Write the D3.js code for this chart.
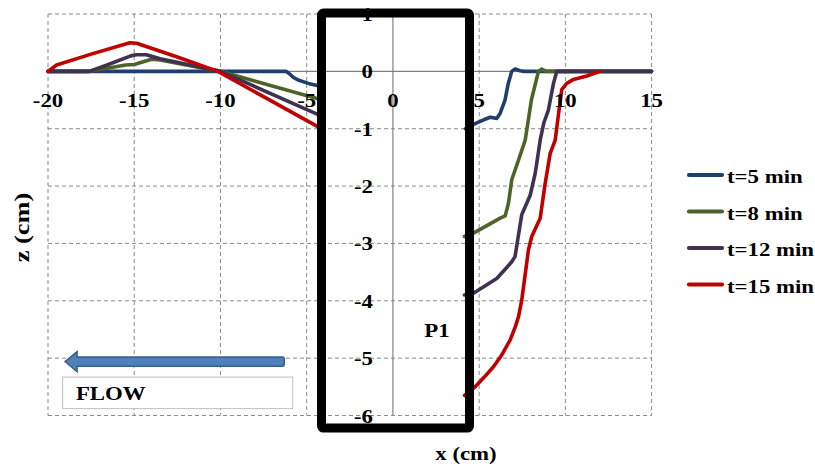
<!DOCTYPE html>
<html><head><meta charset="utf-8">
<script src="https://cdn.jsdelivr.net/npm/d3@7"></script>
<style>
body{margin:0;background:#fff}
svg{display:block}
text{font-family:"Liberation Serif","Times New Roman",serif;font-weight:bold;fill:#000}
</style>
</head><body>
<svg id="c" width="815" height="467"></svg>
<script>
// ---------- data ----------
const seriesNames = ["t=5 min", "t=8 min", "t=12 min", "t=15 min"];
const xTicks = [-20, -15, -10, -5, 0, 5, 10, 15];
const yTicks = [1, 0, -1, -2, -3, -4, -5, -6];

// t = 5 min
const t5Left  = [[-20,0],[-6.2,0],[-6.0,-0.04],[-5.8,-0.1],[-5.5,-0.15],[-4.9,-0.21],[-4.2,-0.26]];
const t5Right = [[4.2,-1.0],[4.5,-0.95],[4.86,-0.9],[5.3,-0.84],[5.64,-0.8],[6.02,-0.82],[6.22,-0.73],
                 [6.5,-0.5],[6.69,-0.21],[6.89,0.0],[7.08,0.04],[7.37,0.01],[7.6,0],[15,0]];
// t = 8 min
const t8Left  = [[-20,0],[-17.7,0],[-16.5,0.06],[-15.5,0.11],[-15.0,0.12],[-14.0,0.21],[-13.5,0.2],
                 [-10,0],[-4.2,-0.49]];
const t8Right = [[4.15,-2.88],[4.67,-2.82],[5.5,-2.68],[6.22,-2.56],[6.51,-2.52],[6.7,-2.3],
                 [6.89,-1.89],[7.28,-1.55],[7.67,-1.2],[8.03,-0.5],[8.44,0.0],[8.63,0.04],[8.88,0],[9.5,0],[15,0]];
// t = 12 min
const t12Left  = [[-20,0],[-17.6,0],[-16.5,0.12],[-15.2,0.27],[-14.9,0.29],[-14.3,0.29],[-13.5,0.22],
                  [-10,0],[-4.2,-0.77]];
const t12Right = [[4.15,-3.9],[4.67,-3.87],[6.02,-3.61],[6.6,-3.42],[6.89,-3.32],[7.08,-3.23],[7.47,-2.5],
                  [7.96,-2.16],[8.25,-1.78],[8.54,-1.2],[8.75,-0.9],[9.02,-0.67],[9.31,-0.21],[9.5,0],[15,0]];
// t = 15 min
const t15Left  = [[-20,0],[-19.5,0.11],[-17.5,0.3],[-15.25,0.5],[-14.86,0.49],[-12.5,0.25],
                  [-10.15,0],[-4.2,-0.99]];
const t15Right = [[4.15,-5.65],[4.77,-5.5],[5.3,-5.33],[5.83,-5.15],[6.3,-4.95],[6.8,-4.68],[7.1,-4.45],
                  [7.28,-4.28],[7.47,-3.99],[7.86,-3.11],[8.05,-2.88],[8.54,-2.56],[8.83,-1.95],[9.12,-1.43],
                  [9.41,-1.2],[9.6,-0.75],[9.79,-0.32],[10.08,-0.21],[10.47,-0.14],[11.24,-0.08],[12.02,0]];

const seriesSegments = [[t5Left, t5Right], [t8Left, t8Right], [t12Left, t12Right], [t15Left, t15Right]];

// annotations (data units)
const pierBox = {x0: -4.14, x1: 4.44, y0: 1.017, y1: -6.22};
const flowArrow = {xTail: -6.3, xTip: -19.01, y: -5.06};
const flowBox = {x0: -19.15, x1: -5.81, y0: -5.33, y1: -5.88};
const pierLabel = {x: 1.82, y: -4.63, text: "P1"};
const flowLabel = {x: -18.38, y: -5.73, text: "FLOW"};

// ---------- style ----------
const colors = ["#1F3F6E", "#4F6228", "#3F3151", "#C00000"];
const svg = d3.select("#c");
const x = d3.scaleLinear().domain([-20, 15]).range([48, 651.6]);
const y = d3.scaleLinear().domain([-6, 1]).range([415.5, 14]);
const SX = 1.2; // horizontal stretch of text in reference

function label(g, px, py, str, anchor, size, rot) {
  const t = g.append("g")
    .attr("transform", `translate(${px},${py})` + (rot ? ` rotate(${rot})` : "") + ` scale(${SX},1)`);
  t.append("text").attr("text-anchor", anchor).style("font-size", size + "px").text(str);
  return t;
}

// grid
const grid = svg.append("g").attr("stroke", "#8a8a8a").attr("stroke-width", 1).attr("stroke-dasharray", "4,3");
xTicks.filter(d => d !== 0).forEach(d => {
  grid.append("line").attr("x1", x(d)).attr("x2", x(d)).attr("y1", y(1)).attr("y2", y(-6));
});
yTicks.filter(d => d !== 0).forEach(d => {
  grid.append("line").attr("x1", x(-20)).attr("x2", x(15)).attr("y1", y(d)).attr("y2", y(d));
});
// axes
svg.append("line").attr("x1", x(-20)).attr("x2", x(15)).attr("y1", y(0)).attr("y2", y(0))
  .attr("stroke", "#808080").attr("stroke-width", 1.2);
svg.append("line").attr("x1", x(0)).attr("x2", x(0)).attr("y1", y(1)).attr("y2", y(-6))
  .attr("stroke", "#808080").attr("stroke-width", 1.2);

// series
const line = d3.line().x(d => x(d[0])).y(d => y(d[1])).curve(d3.curveLinear);
seriesSegments.forEach((segs, i) => {
  segs.forEach(seg => {
    svg.append("path").datum(seg).attr("d", line).attr("fill", "none")
      .attr("stroke", colors[i]).attr("stroke-width", 3.6)
      .attr("stroke-linejoin", "round").attr("stroke-linecap", "round");
  });
});

// tick labels
const tl = svg.append("g");
xTicks.forEach(d => label(tl, x(d), 107, String(d), "middle", 19));
yTicks.forEach(d => label(tl, 373, y(d) + 7, String(d), "end", 19));

// pier box
svg.append("rect")
  .attr("x", x(pierBox.x0)).attr("y", y(pierBox.y0))
  .attr("width", x(pierBox.x1) - x(pierBox.x0)).attr("height", y(pierBox.y1) - y(pierBox.y0))
  .attr("fill", "none").attr("stroke", "#000").attr("stroke-width", 9)
  .attr("stroke-linejoin", "round").attr("rx", 2);
label(svg, x(pierLabel.x), y(pierLabel.y), pierLabel.text, "start", 19);

// flow arrow
const ax0 = x(flowArrow.xTail), ax1 = x(flowArrow.xTip), ay = y(flowArrow.y);
const headLen = 12, headHalf = 10, shaftHalf = 4.7;
const arrowPath = `M${ax1},${ay} L${ax1 + headLen},${ay - headHalf} L${ax1 + headLen},${ay - shaftHalf}
  L${ax0 - 2},${ay - shaftHalf} Q${ax0},${ay - shaftHalf} ${ax0},${ay - shaftHalf + 2} L${ax0},${ay + shaftHalf - 2}
  Q${ax0},${ay + shaftHalf} ${ax0 - 2},${ay + shaftHalf} L${ax1 + headLen},${ay + shaftHalf}
  L${ax1 + headLen},${ay + headHalf} Z`;
svg.append("path").attr("d", arrowPath).attr("fill", "#4F81BD").attr("stroke", "#385D8A").attr("stroke-width", 1.5);
svg.append("rect")
  .attr("x", x(flowBox.x0)).attr("y", y(flowBox.y0))
  .attr("width", x(flowBox.x1) - x(flowBox.x0)).attr("height", y(flowBox.y1) - y(flowBox.y0))
  .attr("fill", "#fff").attr("stroke", "#bfbfbf").attr("stroke-width", 1);
label(svg, x(flowLabel.x), y(flowLabel.y), flowLabel.text, "start", 19);

// axis titles
label(svg, 466, 460, "x (cm)", "middle", 19);
label(svg, 28.5, 227.5, "z (cm)", "middle", 22, -90);

// legend
const leg = svg.append("g");
seriesNames.forEach((name, i) => {
  const ly = 175 + i * 36.5;
  leg.append("line").attr("x1", 689).attr("x2", 722).attr("y1", ly).attr("y2", ly)
    .attr("stroke", colors[i]).attr("stroke-width", 4.2).attr("stroke-linecap", "round");
  label(leg, 727, ly + 8, name, "start", 19);
});
</script>
</body></html>
